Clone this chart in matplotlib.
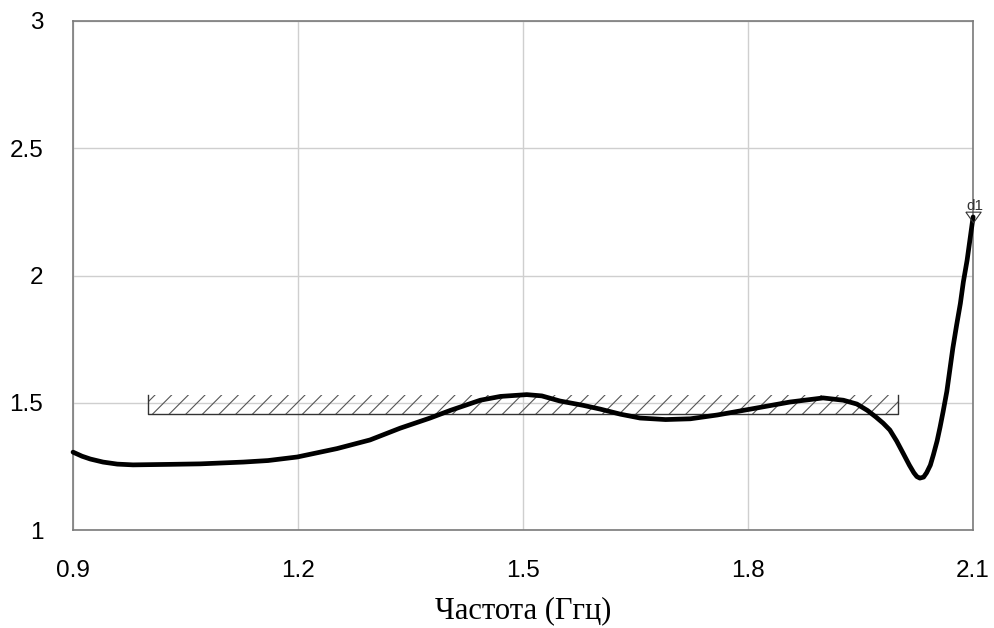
import matplotlib
matplotlib.use("Agg")
import matplotlib.pyplot as plt

# frequency (GHz) and VSWR
freq = [0.900, 0.912, 0.923, 0.940, 0.959, 0.980, 1.029, 1.070, 1.127, 1.160,
        1.199, 1.252, 1.296, 1.336, 1.376, 1.403, 1.443, 1.470, 1.505, 1.525,
        1.549, 1.580, 1.603, 1.630, 1.656, 1.690, 1.723, 1.759, 1.803, 1.856,
        1.900, 1.927, 1.945, 1.959, 1.970, 1.980, 1.989, 1.998, 2.007, 2.015,
        2.021, 2.025, 2.029, 2.034, 2.038, 2.043, 2.047, 2.052, 2.056, 2.060,
        2.065, 2.069, 2.073, 2.078, 2.083, 2.087, 2.092, 2.096, 2.100]
vswr = [1.306, 1.290, 1.279, 1.267, 1.259, 1.256, 1.258, 1.260, 1.267, 1.273,
        1.287, 1.320, 1.354, 1.400, 1.440, 1.470, 1.510, 1.525, 1.532, 1.527,
        1.507, 1.490, 1.475, 1.455, 1.440, 1.434, 1.437, 1.452, 1.475, 1.503,
        1.519, 1.510, 1.495, 1.470, 1.445, 1.420, 1.393, 1.350, 1.300, 1.255,
        1.225, 1.210, 1.204, 1.208, 1.225, 1.255, 1.295, 1.350, 1.405, 1.465,
        1.545, 1.630, 1.715, 1.805, 1.890, 1.975, 2.060, 2.145, 2.230]

# spec mask (hatched band)
mask_f = [1.0, 2.0]
mask_lo = 1.455
mask_hi = 1.530

xticks = [0.9, 1.2, 1.5, 1.8, 2.1]
yticks = [1, 1.5, 2, 2.5, 3]
ytick_labels = ["1", "1.5", "2", "2.5", "3"]

plt.rcParams["font.family"] = ["Liberation Sans", "DejaVu Sans"]
plt.rcParams["hatch.linewidth"] = 0.8

fig = plt.figure(figsize=(9.95, 6.28), dpi=100)
ax = fig.add_axes([0.0734, 0.156, 0.9046, 0.8106])

ax.set_xlim(0.9, 2.1)
ax.set_ylim(1, 3)
ax.set_xticks(xticks)
ax.set_xticklabels([str(t) for t in xticks])
ax.set_yticks(yticks)
ax.set_yticklabels(ytick_labels)
ax.tick_params(length=0, labelsize=17.5)
ax.tick_params(axis="x", pad=21.5)
ax.tick_params(axis="y", pad=21.5)
ax.grid(True, color="#cfcfcf", linewidth=1.0)
ax.set_axisbelow(True)
for s in ax.spines.values():
    s.set_color("#7a7a7a")
    s.set_linewidth(1.2)

# hatched band
ax.fill_between(mask_f, mask_lo, mask_hi, facecolor="none", edgecolor="#555555",
                hatch="//", linewidth=0)
ax.plot([mask_f[0], mask_f[0], mask_f[1], mask_f[1]],
        [mask_hi, mask_lo, mask_lo, mask_hi], color="#333333", linewidth=1.0)

ax.plot(freq, vswr, color="black", linewidth=3.4, solid_joinstyle="round",
        solid_capstyle="round", clip_on=False, zorder=5)

# marker d1 at the end of the trace
tri = [(-1, 0.7), (1, 0.7), (0, -0.7), (-1, 0.7)]
ax.plot(freq[-1], vswr[-1], marker=tri, markersize=11, markerfacecolor="none",
        markeredgecolor="#333333", markeredgewidth=0.8, clip_on=False, zorder=6)
ax.annotate("d1", (freq[-1], vswr[-1]), xytext=(1, 3), textcoords="offset points",
            ha="center", va="bottom", fontsize=11, color="#333333")

ax.set_xlabel("Частота (Ггц)", fontsize=22, family=["Liberation Serif", "DejaVu Serif"],
              labelpad=10)

fig.savefig("out.png", dpi=100)
